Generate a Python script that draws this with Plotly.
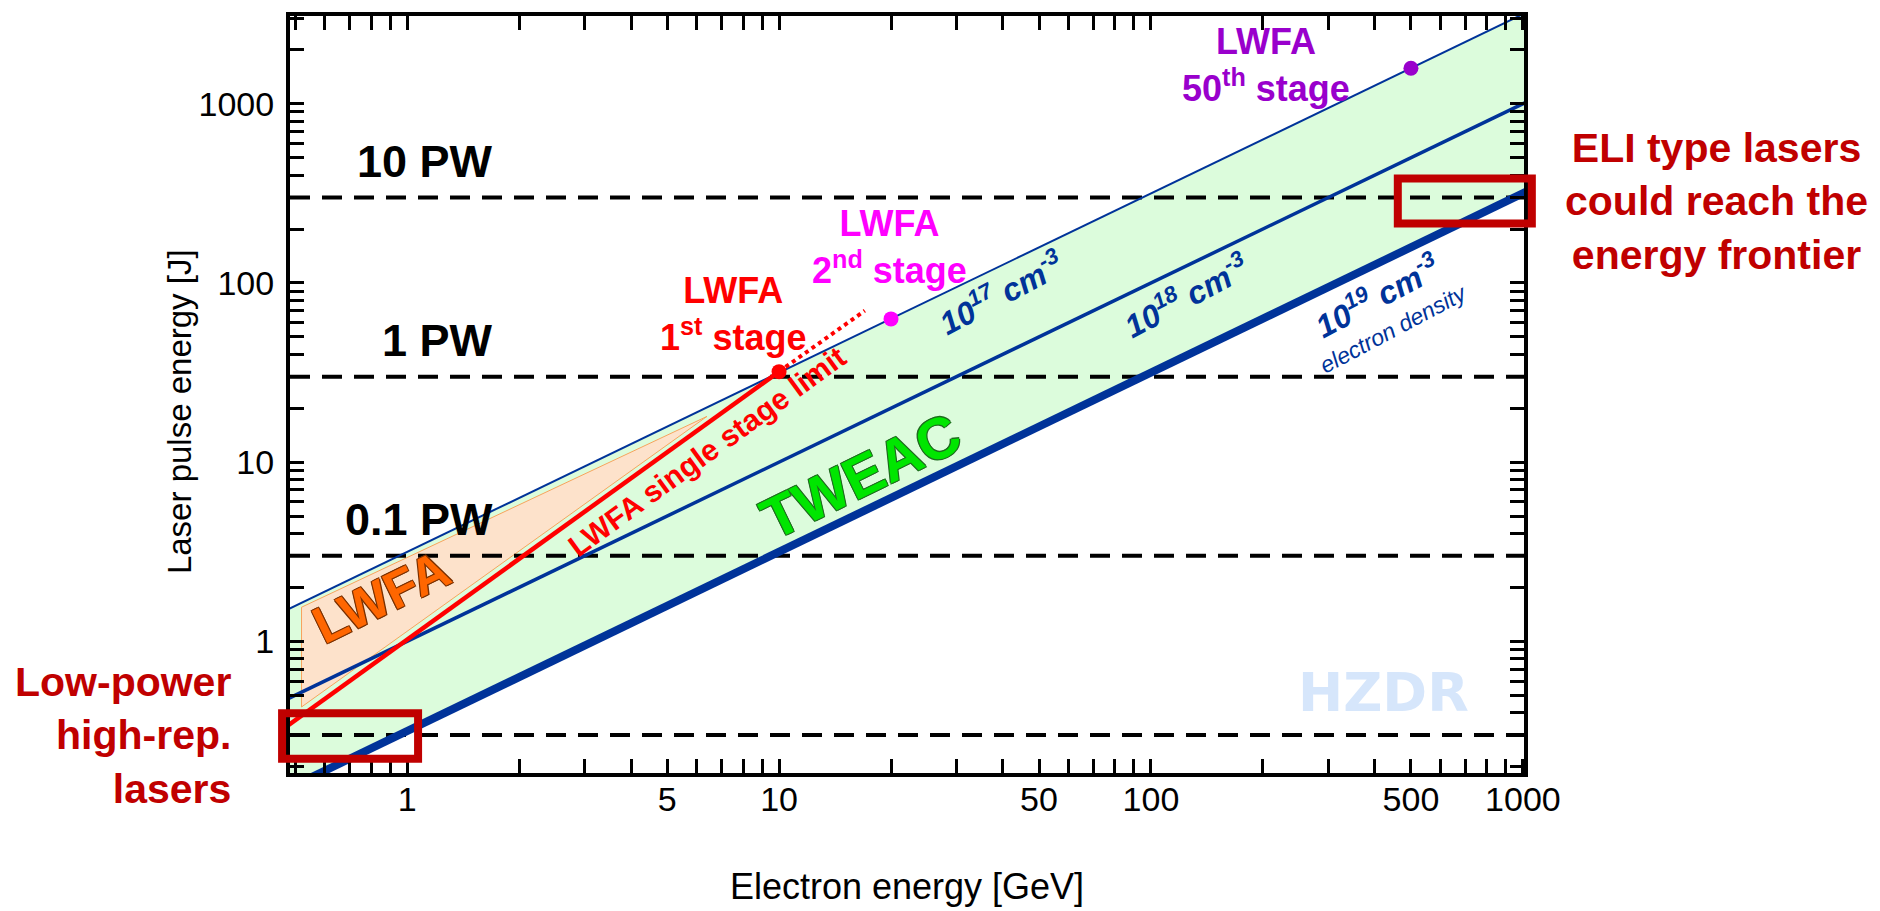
import numpy as np
import plotly.graph_objects as go

# ---------------- data ----------------
# electron energy [GeV] end points of the straight (log-log) lines
band_x = [0.45, 1100]
n17_energy_j = [1.42, 3480]      # 10^17 cm^-3 line
n18_energy_j = [0.45, 1100]      # 10^18 cm^-3 line
n19_energy_j = [0.142, 348]      # 10^19 cm^-3 line (thick)

# LWFA region (orange polygon)
lwfa_region_gev = [0.52, 6.4, 0.52]
lwfa_region_j = [1.55, 18.0, 0.43]

# LWFA single stage limit (red line) and its dotted extension
single_stage_gev = [0.45, 10]
single_stage_j = [0.31, 32]
extension_gev = [10, 17]
extension_j = [32, 70]

# LWFA stages (dots)
stage_labels = ["LWFA<br>1<sup>st</sup> stage", "LWFA<br>2<sup>nd</sup> stage", "LWFA<br>50<sup>th</sup> stage"]
stage_gev = [10, 20, 500]
stage_j = [32, 63, 1580]
stage_colors = ["#ff0000", "#ff00ff", "#9900cc"]

# power levels (dashed lines, 30 fs pulses)
power_labels = ["", "0.1 PW", "1 PW", "10 PW"]
power_energy_j = [0.3, 3, 30, 300]

# highlight boxes [x0, x1] GeV, [y0, y1] J
box_lowpower_gev = [0.461, 1.07]
box_lowpower_j = [0.221, 0.397]
box_eli_gev = [461, 1057]
box_eli_j = [215, 383]

# axis ticks
x_tick_labels = {1: "1", 5: "5", 10: "10", 50: "50", 100: "100", 500: "500", 1000: "1000"}
y_tick_labels = {1: "1", 10: "10", 100: "100", 1000: "1000"}

XR = [-0.315, 3.003]
YR = [-0.735, 3.49]

FONT = "Liberation Sans, Arial, Helvetica, sans-serif"
BLUE = "#003399"
DARKRED = "#c00000"

fig = go.Figure()

# green TWEAC band
fig.add_trace(go.Scatter(
    x=band_x + band_x[::-1], y=n17_energy_j + n19_energy_j[::-1],
    mode="lines", fill="toself", fillcolor="#dcfcdc",
    line=dict(width=0), hoverinfo="skip", showlegend=False))

# orange LWFA region
fig.add_trace(go.Scatter(
    x=lwfa_region_gev + lwfa_region_gev[:1], y=lwfa_region_j + lwfa_region_j[:1],
    mode="lines", fill="toself", fillcolor="#fde2cb",
    line=dict(width=1, color="#f7a35c"), hoverinfo="skip", showlegend=False))

# dashed power lines
for e in power_energy_j:
    fig.add_trace(go.Scatter(
        x=[10 ** XR[0], 10 ** XR[1]], y=[e, e], mode="lines",
        line=dict(color="black", width=4, dash="20px,12px"),
        hoverinfo="skip", showlegend=False))

# density lines
for yy, w in [(n17_energy_j, 2), (n18_energy_j, 3.5), (n19_energy_j, 8)]:
    fig.add_trace(go.Scatter(x=band_x, y=yy, mode="lines",
                             line=dict(color=BLUE, width=w),
                             hoverinfo="skip", showlegend=False))

# single stage limit
fig.add_trace(go.Scatter(x=single_stage_gev, y=single_stage_j, mode="lines",
                         line=dict(color="#ff0000", width=4.5),
                         hoverinfo="skip", showlegend=False))
fig.add_trace(go.Scatter(x=extension_gev, y=extension_j, mode="lines",
                         line=dict(color="#ff0000", width=4, dash="dot"),
                         hoverinfo="skip", showlegend=False))

# stage dots
fig.add_trace(go.Scatter(x=stage_gev, y=stage_j, mode="markers",
                         marker=dict(size=15, color=stage_colors),
                         hoverinfo="skip", showlegend=False))

ann = []

def A(text, x, y, size, color, bold=True, italic=False, angle=0, xanchor="center",
      yanchor="middle", xref="x", yref="y", align="center", shadow=None, family=FONT):
    f = dict(size=size, color=color, family=family,
             weight="bold" if bold else "normal",
             style="italic" if italic else "normal")
    if shadow:
        f["shadow"] = shadow
    ann.append(dict(text=text, x=x, y=y, xref=xref, yref=yref, showarrow=False,
                    font=f, textangle=angle, xanchor=xanchor, yanchor=yanchor,
                    align=align))

# power labels
for lab, e in zip(power_labels, power_energy_j):
    if lab:
        A(lab, 0.237, np.log10(e) + 0.2, 45, "black", xanchor="right")

# stage labels
stage_pos = [(0.876, 1.827), (1.298, 2.199), (2.309, 3.216)]
for lab, (px, py), c in zip(stage_labels, stage_pos, stage_colors):
    A(lab, px, py, 36, c)

# density labels
A("10<sup>17</sup> cm<sup>-3</sup>", 1.597, 1.949, 32, BLUE, italic=True, angle=-28)
A("10<sup>18</sup> cm<sup>-3</sup>", 2.094, 1.933, 32, BLUE, italic=True, angle=-28)
A("10<sup>19</sup> cm<sup>-3</sup>", 2.608, 1.933, 32, BLUE, italic=True, angle=-28)
A("electron density", 2.651, 1.744, 23, BLUE, bold=False, italic=True, angle=-28)

outline_g = "1px 1px 0 #1f6b1f, -1px -1px 0 #1f6b1f, 1px -1px 0 #1f6b1f, -1px 1px 0 #1f6b1f"
outline_o = "1px 1px 0 #7a3000, -1px -1px 0 #7a3000, 1px -1px 0 #7a3000, -1px 1px 0 #7a3000"
A("TWEAC", 1.220, 0.927, 58, "#00e600", angle=-26, shadow=outline_g)
A("LWFA", -0.070, 0.249, 52, "#ff6600", angle=-26, shadow=outline_o)
A("LWFA single stage limit", 0.806, 1.060, 30, "#ff0000", angle=-36)

# outside texts
A("ELI type lasers<br>could reach the<br>energy frontier", 1.1564, 0.7556, 41, DARKRED,
  xref="paper", yref="paper")
A("Low-power<br>high-rep.<br>lasers", -0.0462, 0.0499, 41, DARKRED,
  xref="paper", yref="paper", xanchor="right", align="right")

# watermark
A("HZDR", 0.886, 0.1064, 54, "#d6e6fb", xref="paper", yref="paper",
  family="DejaVu Sans, sans-serif")

# y axis title
A("Laser pulse energy [J]", -0.089, 0.477, 33, "black", bold=False, angle=-90,
  xref="paper", yref="paper")

# highlight boxes (paper coordinates computed from the log axes)
def px(v):
    return (np.log10(v) - XR[0]) / (XR[1] - XR[0])

def py(v):
    return (np.log10(v) - YR[0]) / (YR[1] - YR[0])

shapes = []
for bx, by in [(box_lowpower_gev, box_lowpower_j), (box_eli_gev, box_eli_j)]:
    shapes.append(dict(type="rect", xref="paper", yref="paper",
                       x0=px(bx[0]), x1=px(bx[1]), y0=py(by[0]), y1=py(by[1]),
                       line=dict(color=DARKRED, width=8), layer="above"))

def tick_lists(lo, hi, labels):
    vals, txt = [], []
    for k in range(-1, 4):
        for m in range(1, 10):
            v = m * 10 ** k
            if lo <= v <= hi:
                vals.append(v)
                txt.append(labels.get(v, "") if v >= 1 else "")
    return vals, txt

xv, xt = tick_lists(10 ** XR[0], 10 ** XR[1] * 1.001, x_tick_labels)
yv, yt = tick_lists(10 ** YR[0], 10 ** YR[1], y_tick_labels)

axis_common = dict(type="log", showgrid=False, zeroline=False, showline=True,
                   linecolor="black", linewidth=4, mirror="ticks",
                   ticks="inside", ticklen=14, tickwidth=3, tickcolor="black",
                   tickmode="array", tickfont=dict(size=34, color="black", family=FONT))

# the page body adds an 8 px margin, so the figure is 8 px smaller than the window
fig.update_layout(
    width=1872, height=903,
    margin=dict(l=282, r=356, t=4, b=138),
    paper_bgcolor="white", plot_bgcolor="white",
    font=dict(family=FONT),
    xaxis=dict(range=XR, tickvals=xv, ticktext=xt, ticklabelstandoff=-7,
               title=dict(text="Electron energy [GeV]", font=dict(size=36, color="black"),
                          standoff=58),
               **axis_common),
    yaxis=dict(range=YR, tickvals=yv, ticktext=yt, ticklabelstandoff=5,
               **axis_common),
    annotations=ann,
    shapes=shapes,
    showlegend=False,
)

fig.write_html("out.html")
